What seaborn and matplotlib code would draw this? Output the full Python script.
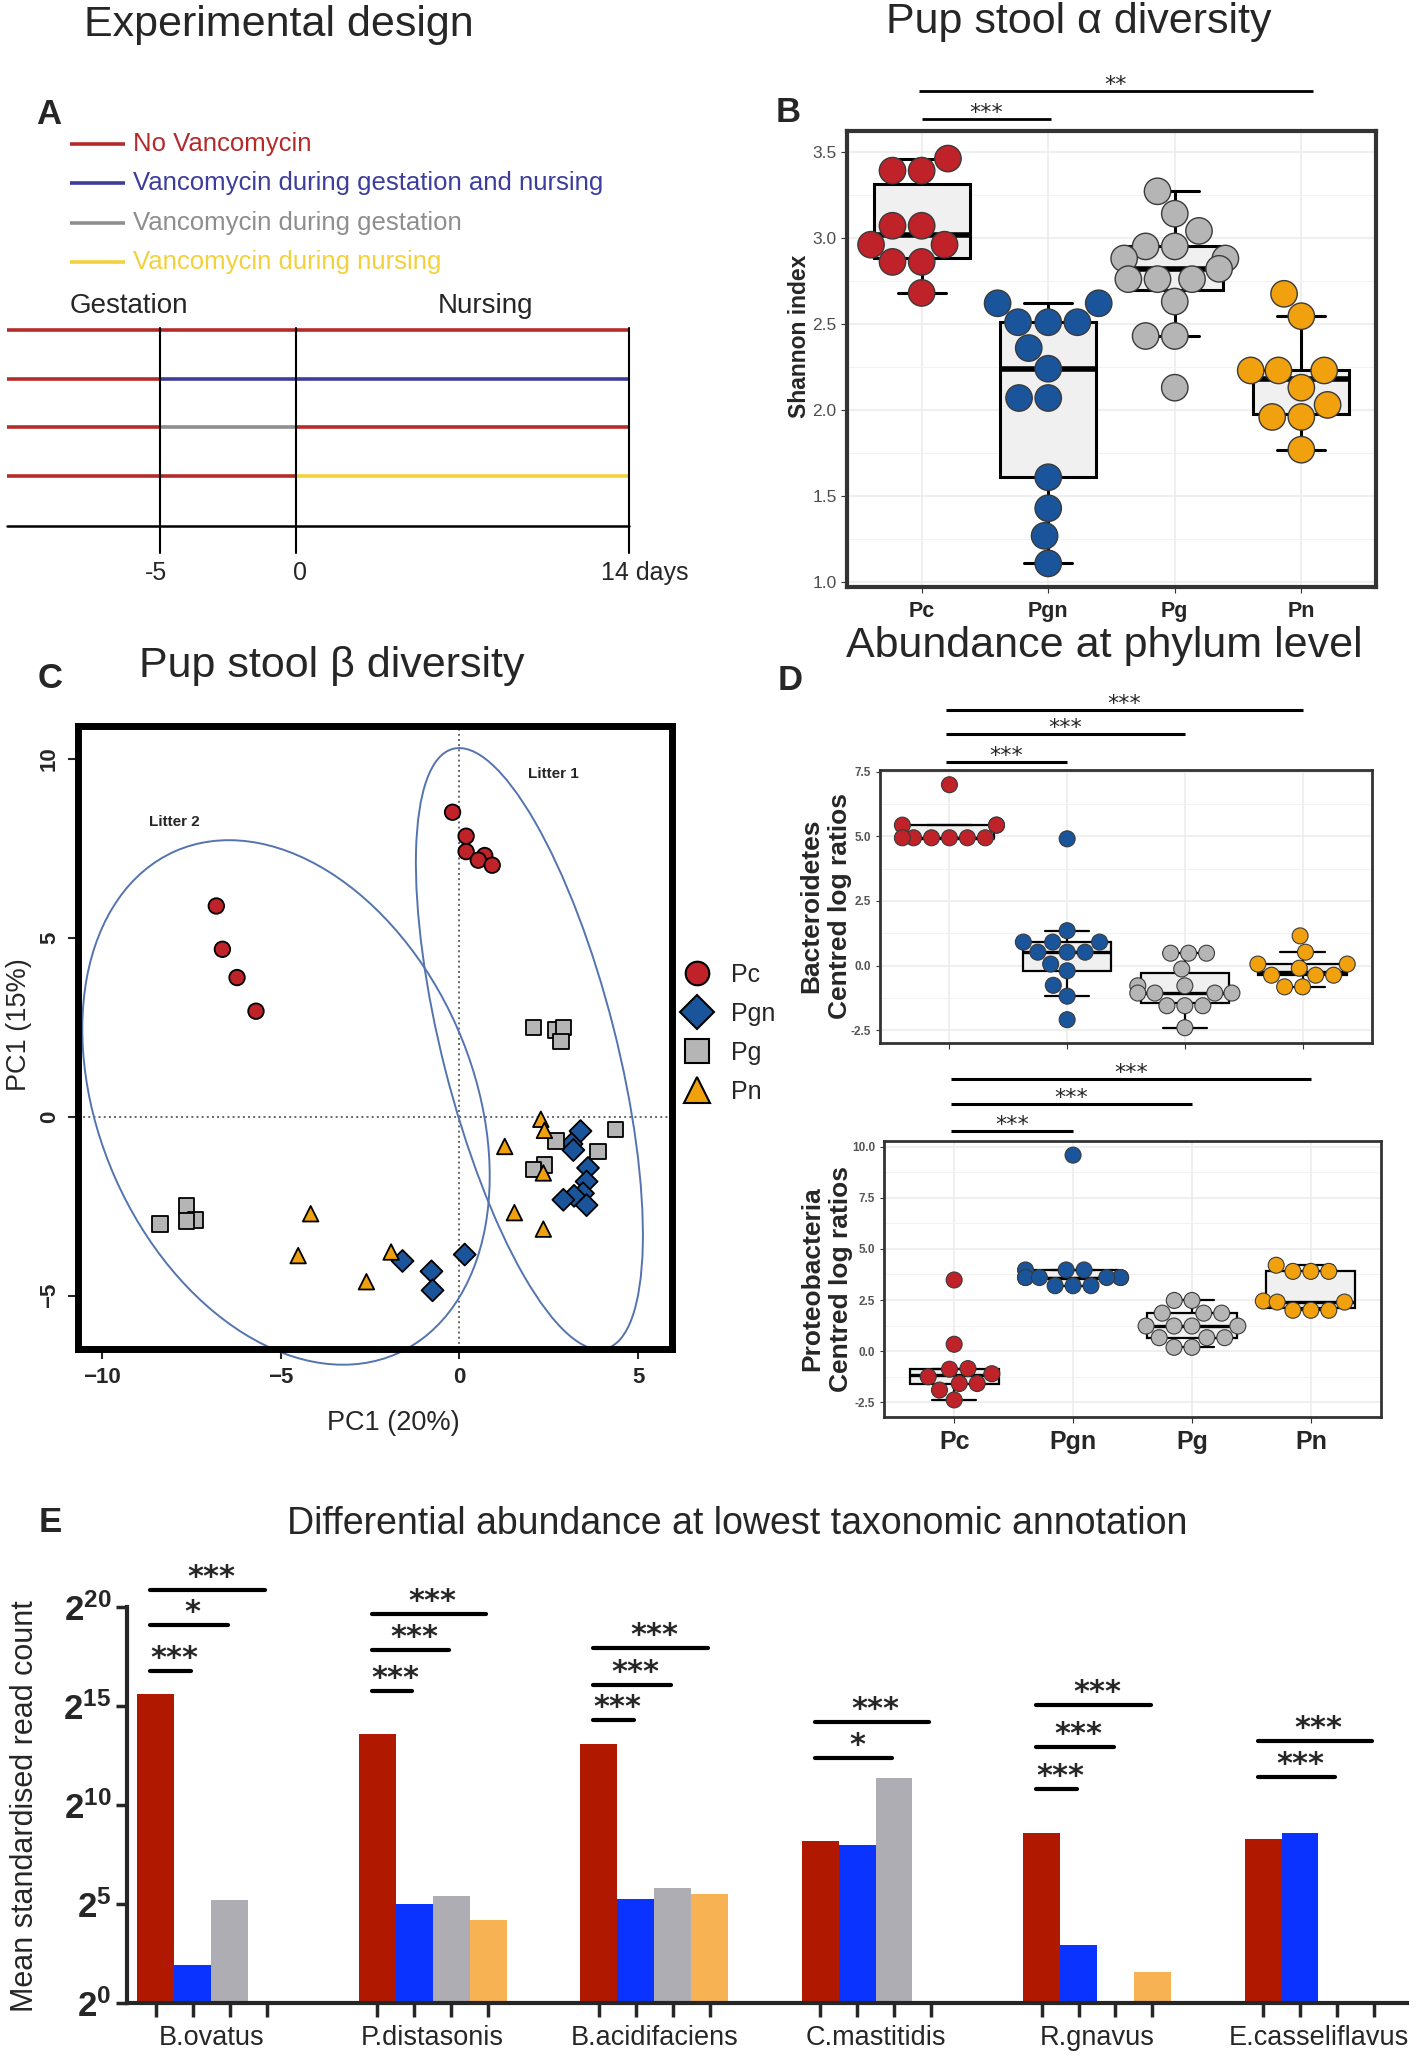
import numpy as np
import pandas as pd
import seaborn as sns
import matplotlib.pyplot as plt
from matplotlib.patches import Ellipse
from matplotlib.lines import Line2D
from matplotlib.ticker import AutoMinorLocator, FormatStrFormatter

W, H = 1418, 2059

GROUPS = ['Pc', 'Pgn', 'Pg', 'Pn']
DOT_COLORS = ['#BF2228', '#1A559B', '#B5B5B5', '#F1A10D']

# --- panel A : experimental design ---
TREATMENTS = ['No Vancomycin', 'Vancomycin during gestation and nursing',
              'Vancomycin during gestation', 'Vancomycin during nursing']
TREATMENT_COLORS = ['#B42B2B', '#3D3D9C', '#8E8E8E', '#F3D13C']
# colour index for the periods (before, gestation, nursing) of each row
TREATMENT_PERIODS = [[0, 0, 0], [0, 1, 1], [0, 2, 0], [0, 0, 3]]
DAY_LABELS = ['-5', '0', '14 days']
PERIOD_NAMES = ['Gestation', 'Nursing']

# --- panel B : Shannon index ---
SHANNON_PC = [3.46, 3.39, 3.39, 3.07, 3.07, 2.96, 2.96, 2.86, 2.86, 2.68]
SHANNON_PGN = [2.62, 2.62, 2.51, 2.51, 2.51, 2.36, 2.24, 2.07, 2.07, 1.61, 1.43, 1.27, 1.11]
SHANNON_PG = [3.27, 3.14, 3.04, 2.95, 2.95, 2.88, 2.88, 2.82, 2.76, 2.76, 2.76, 2.63, 2.43, 2.43, 2.13]
SHANNON_PN = [2.675, 2.545, 2.23, 2.23, 2.23, 2.13, 2.03, 1.96, 1.96, 1.77]

# --- panel C : PCA ---
PCA_X_PC = [-0.19, 0.19, 0.19, 0.71, 0.53, 0.92, -6.8, -6.63, -6.22, -5.69]
PCA_Y_PC = [8.51, 7.84, 7.41, 7.3, 7.17, 7.03, 5.89, 4.68, 3.89, 2.95]
PCA_X_PGN = [3.39, 3.14, 3.19, 3.6, 3.56, 3.46, 3.21, 2.91, 3.56, 0.15, -1.59, -0.78, -0.75]
PCA_Y_PGN = [-0.4, -0.76, -0.93, -1.43, -1.81, -2.14, -2.21, -2.32, -2.47, -3.85, -4.03, -4.32, -4.85]
PCA_X_PG = [2.07, 2.7, 2.91, 2.84, 4.37, 2.7, 3.88, 2.38, 2.07, -7.63, -7.38, -7.63, -8.37]
PCA_Y_PG = [2.5, 2.42, 2.5, 2.1, -0.36, -0.68, -0.97, -1.35, -1.47, -2.5, -2.89, -2.92, -2.99]
PCA_X_PN = [2.28, 2.38, 1.27, 2.35, 1.54, 2.35, -4.16, -4.51, -1.91, -2.6]
PCA_Y_PN = [-0.07, -0.38, -0.83, -1.57, -2.68, -3.14, -2.71, -3.88, -3.78, -4.61]
PCA_MARKERS = ['o', 'D', 's', '^']
LITTER_NAMES = ['Litter 1', 'Litter 2']
LITTER_CENTER = [(1.96, 1.9), (-4.85, 0.4)]
LITTER_AXES = [(17.3, 4.85), (15.35, 10.45)]
LITTER_ANGLE = [104.3, 113.9]
LITTER_LABEL_XY = [(2.63, 9.58), (-7.98, 8.24)]

# --- panel D : centred log ratios ---
BACT_PC = [6.99, 5.43, 5.43, 5.43, 4.94, 4.94, 4.94, 4.94, 4.94, 4.94]
BACT_PGN = [4.9, 1.35, 0.91, 0.91, 0.91, 0.52, 0.52, 0.52, 0.06, -0.2, -0.76, -1.18, -2.09]
BACT_PG = [0.48, 0.48, 0.48, -0.13, -0.78, -0.78, -1.06, -1.06, -1.06, -1.06, -1.55, -1.55, -1.55, -2.4]
BACT_PN = [1.15, 0.52, 0.06, 0.06, -0.1, -0.37, -0.37, -0.37, -0.82, -0.82]
PROT_PC = [3.48, 0.34, -0.85, -0.88, -1.1, -1.25, -1.58, -1.58, -1.9, -2.38]
PROT_PGN = [9.58, 3.97, 3.97, 3.97, 3.6, 3.6, 3.6, 3.6, 3.6, 3.6, 3.2, 3.2, 3.2]
PROT_PG = [2.48, 2.48, 1.86, 1.86, 1.86, 1.23, 1.23, 1.23, 1.23, 0.66, 0.66, 0.66, 0.19, 0.19]
PROT_PN = [4.2, 3.9, 3.9, 3.9, 2.45, 2.4, 2.4, 2.0, 2.0, 2.0]

# --- panel E : log2 mean standardised read count ---
TAXA = ['B.ovatus', 'P.distasonis', 'B.acidifaciens', 'C.mastitidis', 'R.gnavus', 'E.casseliflavus']
LOG2_PC = [15.6, 13.57, 13.1, 8.16, 8.57, 8.26]
LOG2_PGN = [1.92, 5.0, 5.26, 7.96, 2.93, 8.57]
LOG2_PG = [5.22, 5.4, 5.8, 11.37, 0, 0]
LOG2_PN = [0, 4.19, 5.5, 0, 1.53, 0]
BAR_COLORS = ['#B01800', '#0A33FF', '#ADADB3', '#F7B254']
# comparisons against Pc: taxon, compared group, height in log2 units, label
SIG_TAXON = [0, 0, 0, 1, 1, 1, 2, 2, 2, 3, 3, 4, 4, 4, 5, 5]
SIG_GROUP = [1, 2, 3, 1, 2, 3, 1, 2, 3, 2, 3, 1, 2, 3, 2, 3]
SIG_LEVEL = [16.76, 19.12, 20.86, 15.79, 17.84, 19.66, 14.3, 16.07, 17.93,
             12.4, 14.2, 10.81, 12.95, 15.04, 11.4, 13.23]
SIG_LABEL = ['***', '*', '***', '***', '***', '***', '***', '***', '***',
             '*', '***', '***', '***', '***', '***', '***']

sns.set_style('ticks')
plt.rcParams['font.family'] = ['Liberation Sans', 'DejaVu Sans']
plt.rcParams['mathtext.fontset'] = 'custom'
plt.rcParams['mathtext.rm'] = 'Liberation Sans'
plt.rcParams['mathtext.bf'] = 'Liberation Sans:bold'

fig = plt.figure(figsize=(W / 100, H / 100), dpi=100)


def px_axes(x0, y0, x1, y1):
    return fig.add_axes([x0 / W, 1 - y1 / H, (x1 - x0) / W, (y1 - y0) / H])


def ftext(x, y, s, **kw):
    kw.setdefault('ha', 'center')
    kw.setdefault('va', 'center')
    fig.text(x / W, 1 - y / H, s, **kw)


def long_frame(lists, name):
    return pd.DataFrame({'group': np.repeat(GROUPS, [len(v) for v in lists]),
                         name: np.concatenate(lists)})


def star_bar(ax, x0, x1, y, label, size, lw):
    ax.plot([x0, x1], [y, y], color='black', lw=lw, clip_on=False, solid_capstyle='butt')
    ax.text((x0 + x1) / 2, y, label, ha='center', va='baseline', fontsize=size,
            family='DejaVu Sans', clip_on=False)


def gg_frame(ax, lw):
    for s in ax.spines.values():
        s.set_visible(True)
        s.set_linewidth(lw)
        s.set_color('#333333')
    ax.yaxis.set_minor_locator(AutoMinorLocator(2))
    ax.grid(True, which='major', color='#EBEBEB', lw=1.1)
    ax.grid(True, which='minor', axis='y', color='#F2F2F2', lw=0.7)
    ax.tick_params(which='minor', length=0)
    ax.set_axisbelow(True)
    ax.set_xlabel('')
    ax.set_ylabel('')


# ---------------- titles and panel letters ----------------
ftext(279, 25, 'Experimental design', fontsize=31)
ftext(1079, 22, 'Pup stool α diversity', fontsize=31)
ftext(332, 666, 'Pup stool β diversity', fontsize=31)
ftext(1104, 646, 'Abundance at phylum level', fontsize=31)
ftext(737, 1524, 'Differential abundance at lowest taxonomic annotation', fontsize=27)
for letter, (lx, ly) in zip('ABCDE', [(49, 115), (788, 113), (50, 678), (790, 680), (50, 1522)]):
    ftext(lx, ly, letter, fontsize=25, fontweight='bold')

# ---------------- A ----------------
ax_a = px_axes(0, 90, 710, 600)
ax_a.set_xlim(0, 710)
ax_a.set_ylim(600, 90)
ax_a.axis('off')
bounds = [7, 160, 296, 629]
for i, (name, col) in enumerate(zip(TREATMENTS, TREATMENT_COLORS)):
    y = 144 + i * 39.3
    ax_a.plot([70, 125], [y, y], color=col, lw=2.6, solid_capstyle='butt')
    ax_a.text(133, y, name, color=col, fontsize=18.5, va='center')
for r, periods in enumerate(TREATMENT_PERIODS):
    y = 330 + r * 48.5
    for p, ci in enumerate(periods):
        ax_a.plot([bounds[p], bounds[p + 1]], [y, y], color=TREATMENT_COLORS[ci],
                  lw=2.6, solid_capstyle='butt')
ax_a.plot([bounds[0], bounds[-1]], [526, 526], color='black', lw=1.8)
for x in bounds[1:]:
    ax_a.plot([x, x], [328, 553], color='black', lw=1.5)
ax_a.text(bounds[1] - 4, 573, DAY_LABELS[0], ha='center', va='center', fontsize=18)
ax_a.text(bounds[2] + 4, 573, DAY_LABELS[1], ha='center', va='center', fontsize=18)
ax_a.text(bounds[3] - 28, 573, DAY_LABELS[2], ha='left', va='center', fontsize=18)
ax_a.text(129, 306, PERIOD_NAMES[0], ha='center', va='center', fontsize=20)
ax_a.text(485, 306, PERIOD_NAMES[1], ha='center', va='center', fontsize=20)

# ---------------- B ----------------
ax_b = px_axes(847, 131, 1376, 587)
df_b = long_frame([SHANNON_PC, SHANNON_PGN, SHANNON_PG, SHANNON_PN], 'shannon')
sns.boxplot(data=df_b, x='group', y='shannon', order=GROUPS, color='#F0F0F0', saturation=1,
            linecolor='black', linewidth=2.2, width=0.76, showfliers=False,
            medianprops={'linewidth': 4}, ax=ax_b)
sns.swarmplot(data=df_b, x='group', y='shannon', order=GROUPS, hue='group', hue_order=GROUPS,
              palette=DOT_COLORS, size=19, edgecolor='#3A3A3A', linewidth=1, legend=False,
              ax=ax_b, zorder=3)
ax_b.set_xlim(-0.59, 3.59)
ax_b.set_ylim(0.973, 3.62)
ax_b.set_yticks([1.0, 1.5, 2.0, 2.5, 3.0, 3.5])
ax_b.yaxis.set_major_formatter(FormatStrFormatter('%.1f'))
gg_frame(ax_b, 3.0)
ax_b.tick_params(axis='y', labelsize=12.5, labelcolor='#4D4D4D', length=4, color='#333333')
ax_b.tick_params(axis='x', labelsize=15.5, length=4, color='#333333', pad=6)
for lab in ax_b.get_xticklabels():
    lab.set_fontweight('bold')
ftext(799, 336, 'Shannon index', fontsize=16.5, fontweight='bold', rotation=90)
star_bar(ax_b, 0, 1.02, 3.69, '***', 16, 2)
star_bar(ax_b, -0.02, 3.09, 3.855, '**', 16, 2)

# ---------------- C ----------------
ax_c = px_axes(78, 726, 672, 1349)
df_c = pd.DataFrame({
    'group': np.repeat(GROUPS, [len(PCA_X_PC), len(PCA_X_PGN), len(PCA_X_PG), len(PCA_X_PN)]),
    'pc1': np.concatenate([PCA_X_PC, PCA_X_PGN, PCA_X_PG, PCA_X_PN]),
    'pc2': np.concatenate([PCA_Y_PC, PCA_Y_PGN, PCA_Y_PG, PCA_Y_PN]),
})
ax_c.axhline(0, color='#666666', ls=':', lw=1.4, zorder=1)
ax_c.axvline(0, color='#666666', ls=':', lw=1.4, zorder=1)
sns.scatterplot(data=df_c, x='pc1', y='pc2', hue='group', style='group', hue_order=GROUPS,
                style_order=GROUPS, palette=DOT_COLORS, markers=dict(zip(GROUPS, PCA_MARKERS)),
                s=125, edgecolor='black', linewidth=1.3, legend=False, ax=ax_c, zorder=3)
for c, (w, h), ang in zip(LITTER_CENTER, LITTER_AXES, LITTER_ANGLE):
    ax_c.add_patch(Ellipse(c, w, h, angle=ang, fill=False, edgecolor='#5474B0', lw=1.4,
                           clip_on=False, zorder=2))
for name, (tx, ty) in zip(LITTER_NAMES, LITTER_LABEL_XY):
    ax_c.text(tx, ty, name, fontsize=11, fontweight='bold', ha='center', va='center')
ax_c.set_xlim(-10.67, 5.95)
ax_c.set_ylim(-6.49, 10.92)
ax_c.set_xticks([-10, -5, 0, 5])
ax_c.set_yticks([-5, 0, 5, 10])
for s in ax_c.spines.values():
    s.set_linewidth(5)
    s.set_color('black')
ax_c.tick_params(labelsize=16, length=7, width=1.5, pad=6)
for lab in ax_c.get_xticklabels() + ax_c.get_yticklabels():
    lab.set_fontweight('bold')
for lab in ax_c.get_yticklabels():
    lab.set_rotation(90)
    lab.set_va('center')
ax_c.set_xlabel('')
ax_c.set_ylabel('')
ftext(393, 1423, 'PC1 (20%)', fontsize=19.5)
ftext(19, 1025, 'PC1 (15%)', fontsize=19.5, rotation=90)
handles = [Line2D([], [], ls='none', marker=m, markersize=(17 if m != '^' else 19),
                  markerfacecolor=c, markeredgecolor='black', markeredgewidth=1.5)
           for m, c in zip(PCA_MARKERS, DOT_COLORS)]
ax_c.legend(handles, GROUPS, loc='center left', bbox_to_anchor=(1.0, 0.507), frameon=False,
            fontsize=18, handletextpad=0.35, labelspacing=0.6, borderaxespad=0, borderpad=0)


# ---------------- D ----------------
def phylum_panel(box, lists, ylim, yticks, sig_levels, ylabel, ylabel_xy, show_x):
    ax = px_axes(*box)
    df = long_frame(lists, 'clr')
    sns.boxplot(data=df, x='group', y='clr', order=GROUPS, color='#F0F0F0', saturation=1,
                linecolor='black', linewidth=1.6, width=0.75, showfliers=False,
                medianprops={'linewidth': 2.4}, ax=ax)
    sns.swarmplot(data=df, x='group', y='clr', order=GROUPS, hue='group', hue_order=GROUPS,
                  palette=DOT_COLORS, size=11.5, edgecolor='#3A3A3A', linewidth=0.8,
                  legend=False, ax=ax, zorder=3)
    ax.set_xlim(-0.59, 3.59)
    ax.set_ylim(*ylim)
    ax.set_yticks(yticks)
    ax.yaxis.set_major_formatter(FormatStrFormatter('%.1f'))
    gg_frame(ax, 2.0)
    ax.tick_params(axis='y', labelsize=8.5, labelcolor='#555555', length=3, color='#333333')
    for lab in ax.get_yticklabels():
        lab.set_fontweight('bold')
    if show_x:
        ax.tick_params(axis='x', labelsize=18, length=4, color='#333333', pad=6)
        for lab in ax.get_xticklabels():
            lab.set_fontweight('bold')
    else:
        ax.tick_params(axis='x', labelbottom=False, length=4, color='#333333')
    for k, lvl in zip([1, 2, 3], sig_levels):
        star_bar(ax, -0.03, k + 0.0, lvl, '***', 16, 2.2)
    ftext(*ylabel_xy, ylabel, fontsize=19, fontweight='bold', rotation=90, linespacing=1.25)
    return ax


phylum_panel((880, 770, 1372, 1043), [BACT_PC, BACT_PGN, BACT_PG, BACT_PN], (-2.99, 7.56),
             [-2.5, 0, 2.5, 5, 7.5], [7.87, 8.95, 9.88], 'Bacteroidetes\nCentred log ratios',
             (826, 906), False)
phylum_panel((884, 1141, 1381, 1416.5), [PROT_PC, PROT_PGN, PROT_PG, PROT_PN], (-3.19, 10.27),
             [-2.5, 0, 2.5, 5, 7.5, 10], [10.76, 12.08, 13.3], 'Proteobacteria\nCentred log ratios',
             (827, 1279), True)

# ---------------- E ----------------
ax_e = px_axes(126.7, 1558, 1407, 2002.7)
df_e = pd.DataFrame({'taxon': TAXA, 'Pc': LOG2_PC, 'Pgn': LOG2_PGN, 'Pg': LOG2_PG, 'Pn': LOG2_PN})
df_e = df_e.melt(id_vars='taxon', var_name='group', value_name='log2')
sns.barplot(data=df_e, x='taxon', y='log2', hue='group', order=TAXA, hue_order=GROUPS,
            palette=BAR_COLORS, width=4 / 6, saturation=1, errorbar=None, legend=False,
            edgecolor='none', ax=ax_e)
ax_e.set_xlim(-0.382, 5.40)
ax_e.set_ylim(0, 22.5)
sns.despine(ax=ax_e)
ax_e.spines['left'].set_bounds(0, 20)
ax_e.spines['left'].set_linewidth(3)
ax_e.spines['bottom'].set_linewidth(3)
ax_e.set_yticks([0, 5, 10, 15, 20])
ax_e.set_yticklabels([rf'$\mathbf{{2^{{{v}}}}}$' for v in [0, 5, 10, 15, 20]])
ax_e.tick_params(axis='y', labelsize=25, length=8, width=2.5, pad=3)
bar_centers = [g + (j - 1.5) / 6 for g in range(len(TAXA)) for j in range(4)]
ax_e.set_xticks(bar_centers, minor=True)
ax_e.set_xticks(range(len(TAXA)))
ax_e.set_xticklabels(TAXA)
ax_e.tick_params(axis='x', which='major', length=0, labelsize=19.5, pad=16)
ax_e.tick_params(axis='x', which='minor', length=10, width=2.5)
ax_e.set_xlabel('')
ax_e.set_ylabel('')
ftext(25, 1806, 'Mean standardised read count', fontsize=22, rotation=90)
for t, g, lvl, lab in zip(SIG_TAXON, SIG_GROUP, SIG_LEVEL, SIG_LABEL):
    red_c = t - 0.25
    tgt_c = t + (g - 1.5) / 6
    ax_e.plot([red_c - 0.15 / 6, tgt_c - 0.05 / 6], [lvl, lvl], color='black', lw=3,
              clip_on=False, solid_capstyle='round')
    ax_e.text((red_c + tgt_c) / 2, lvl + 0.2, lab, ha='center', va='baseline', fontsize=22,
              fontweight='bold', family='DejaVu Sans', clip_on=False)

fig.savefig('out.png', dpi=100)
